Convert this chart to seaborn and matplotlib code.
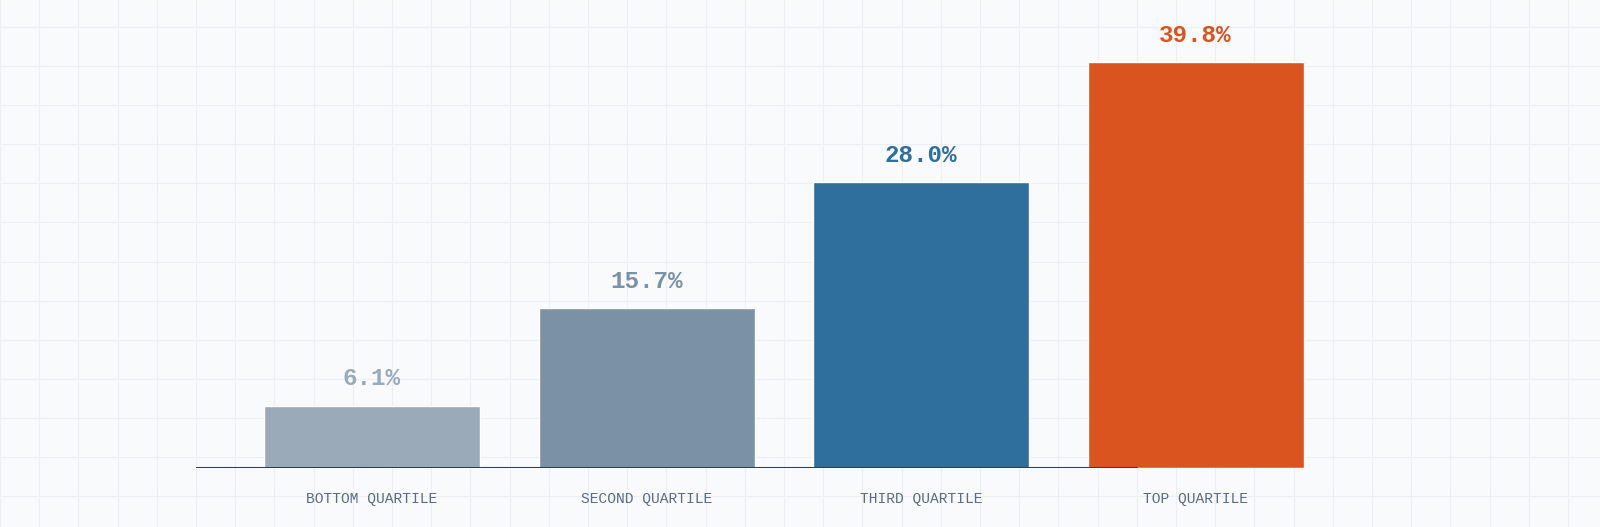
import numpy as np
import pandas as pd
import matplotlib
matplotlib.use("Agg")
import matplotlib.pyplot as plt
import seaborn as sns

categories = ["BOTTOM QUARTILE", "SECOND QUARTILE", "THIRD QUARTILE", "TOP QUARTILE"]
values = [6.1, 15.7, 28.0, 39.8]
colors = ["#9aaab8", "#7b92a6", "#2e6f9e", "#d9541e"]

sns.set_style("white")
plt.rcParams["font.family"] = ["Liberation Mono", "DejaVu Sans Mono"]

W, H = 1600, 527
fig = plt.figure(figsize=(16, 5.27), dpi=100)
fig.patch.set_facecolor("#f9fafc")

# background grid over whole figure
bg = fig.add_axes([0, 0, 1, 1])
bg.set_xlim(0, W)
bg.set_ylim(H, 0)
bg.set_facecolor("#f9fafc")
for gx in np.arange(0, W + 1, 39.2):
    bg.axvline(gx, color="#eceff3", lw=0.8)
for gy in np.arange(27, H, 39.1):
    bg.axhline(gy, color="#eceff3", lw=0.8)
bg.axis("off")

# main axes, placed so bars land where the reference has them
step = 274.5
left_px, right_px = 196, 1500
x0 = -(372 - left_px) / step
x1 = (right_px - 372) / step
ax = fig.add_axes([left_px / W, (H - 468) / H, (right_px - left_px) / W, 468 / H])
ax.patch.set_alpha(0)

df = pd.DataFrame({"cat": categories, "val": values})
sns.barplot(data=df, x="cat", y="val", hue="cat", palette=colors, legend=False,
            width=216 / step, saturation=1, ax=ax)
ax.set_xlim(x0, x1)
ax.set_ylim(0, 468 / 10.2)

for i, v in enumerate(values):
    ax.text(i, v + 1.5, f"{v:.1f}%", ha="center", va="bottom", fontsize=17.5,
            fontweight="bold", color=colors[i])

ax.axhline(0, xmin=0, xmax=(1136 - left_px) / (right_px - left_px), color="#2f3f55", lw=2.2)
for s in ax.spines.values():
    s.set_visible(False)
ax.set_yticks([])
ax.set_xlabel("")
ax.set_ylabel("")
ax.tick_params(axis="x", length=0, pad=17, labelsize=10.5, labelcolor="#5b6b80")

fig.savefig("out.png", dpi=100, facecolor=fig.get_facecolor())
